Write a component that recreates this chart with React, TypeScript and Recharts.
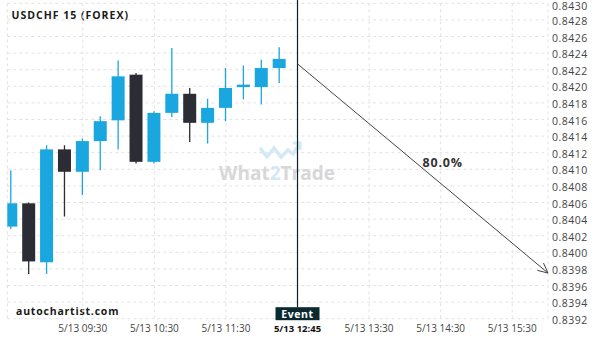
import React from "react";
import {
  ComposedChart,
  Bar,
  XAxis,
  YAxis,
  CartesianGrid,
  ReferenceLine,
} from "recharts";

// 15 min candles, 5/13
const candleTimes = [
  "08:30", "08:45", "09:00", "09:15", "09:30", "09:45", "10:00", "10:15",
  "10:30", "10:45", "11:00", "11:15", "11:30", "11:45", "12:00", "12:15",
];
const opens = [
  0.84031, 0.84059, 0.83988, 0.84124, 0.84097, 0.84134, 0.84159, 0.84214,
  0.84109, 0.84168, 0.84191, 0.84156, 0.84174, 0.84199, 0.84199, 0.84222,
];
const highs = [
  0.84099, 0.8406, 0.84129, 0.84129, 0.84137, 0.84164, 0.84231, 0.84216,
  0.8417, 0.84246, 0.84198, 0.84185, 0.84222, 0.84225, 0.84232, 0.84247,
];
const lows = [
  0.84028, 0.83974, 0.83974, 0.84043, 0.84069, 0.84099, 0.84124, 0.84107,
  0.84107, 0.84163, 0.84133, 0.84131, 0.84158, 0.84184, 0.84178, 0.84204,
];
const closes = [
  0.84059, 0.83989, 0.84124, 0.84097, 0.84134, 0.84158, 0.84212, 0.84109,
  0.84168, 0.84191, 0.84156, 0.84174, 0.84198, 0.84202, 0.84222, 0.84233,
];

const xTickValues = [4, 8, 12, 16, 20, 24, 28];
const xTickLabels = [
  "5/13 09:30", "5/13 10:30", "5/13 11:30", "5/13 12:45",
  "5/13 13:30", "5/13 14:30", "5/13 15:30",
];
const yTicks = [
  0.8392, 0.8394, 0.8396, 0.8398, 0.84, 0.8402, 0.8404, 0.8406, 0.8408, 0.841,
  0.8412, 0.8414, 0.8416, 0.8418, 0.842, 0.8422, 0.8424, 0.8426, 0.8428, 0.843,
];

const eventIndex = 16;
const forecastStart = { t: 16, price: 0.84227 };
const forecastEnd = { t: 30, price: 0.83975 };
const forecastLabel = "80.0%";

const BLUE = "#1aa7e0";
const DARK = "#2b2c34";
const FONT = "'Open Sans', 'Noto Sans', sans-serif";

const data = candleTimes.map((time, i) => ({
  t: i,
  time,
  open: opens[i],
  high: highs[i],
  low: lows[i],
  close: closes[i],
  range: [lows[i], highs[i]],
}));

const Candle = (props: any) => {
  const { x, y, width, height, payload } = props;
  const { open, close, high, low } = payload;
  const color = close >= open ? BLUE : DARK;
  const top0 = height < 0 ? y + height : y;
  const h = Math.abs(height);
  const span = high - low || 1e-9;
  const yAt = (p: number) => top0 + ((high - p) / span) * h;
  const bTop = yAt(Math.max(open, close));
  const bBot = yAt(Math.min(open, close));
  const cx = x + width / 2;
  return (
    <g>
      <line x1={cx} x2={cx} y1={top0} y2={top0 + h} stroke={color} strokeWidth={1.3} />
      <rect x={x} y={bTop} width={width} height={Math.max(bBot - bTop, 1.6)} fill={color} />
    </g>
  );
};

const XTick = (props: any) => {
  const { x, y, payload } = props;
  const idx = xTickValues.indexOf(payload.value);
  const isEvent = payload.value === eventIndex;
  return (
    <text
      x={x}
      y={y + 9.5}
      textAnchor="middle"
      dominantBaseline="central"
      fontFamily={FONT}
      fontSize={isEvent ? 9.5 : 10}
      fontWeight={isEvent ? 700 : 400}
      fill={isEvent ? "#111" : "#444"}
    >
      {idx >= 0 ? xTickLabels[idx] : ""}
    </text>
  );
};

const YTick = (props: any) => {
  const { x, y, payload } = props;
  return (
    <text
      x={x + 4}
      y={Math.max(y + 1, 5.5)}
      textAnchor="start"
      dominantBaseline="central"
      fontFamily={FONT}
      fontSize={10.5}
      letterSpacing={0.5}
      fill="#444"
    >
      {payload.value.toFixed(4)}
    </text>
  );
};

const EventMarker = (props: any) => {
  const { x1, y1, y2 } = props;
  const bottom = Math.max(y1, y2);
  const boxTop = bottom - 11.5;
  return (
    <g>
      <line x1={x1} x2={x1} y1={0} y2={boxTop} stroke="#0b2025" strokeWidth={1.2} />
      <rect x={x1 - 22} y={boxTop} width={44} height={13} fill="#0b2a30" />
      <text
        x={x1}
        y={boxTop + 7}
        textAnchor="middle"
        dominantBaseline="central"
        fontFamily={FONT}
        fontSize={10.5}
        fontWeight={700}
        letterSpacing={0.6}
        fill="#fff"
      >
        Event
      </text>
    </g>
  );
};

const ForecastArrow = (props: any) => {
  const { x1, y1, x2, y2 } = props;
  const ang = Math.atan2(y2 - y1, x2 - x1);
  const L = 11;
  const a = 0.45;
  const p1 = [x2 - L * Math.cos(ang - a), y2 - L * Math.sin(ang - a)];
  const p2 = [x2 - L * Math.cos(ang + a), y2 - L * Math.sin(ang + a)];
  const mx = (x1 + x2) / 2;
  const my = (y1 + y2) / 2;
  return (
    <g>
      <line x1={x1} y1={y1} x2={x2} y2={y2} stroke="#444" strokeWidth={1} />
      <polyline
        points={`${p1[0]},${p1[1]} ${x2},${y2} ${p2[0]},${p2[1]}`}
        fill="none"
        stroke="#444"
        strokeWidth={1}
      />
      <text
        x={mx + 20}
        y={my - 5.5}
        textAnchor="middle"
        dominantBaseline="central"
        fontFamily={FONT}
        fontSize={12.5}
        fontWeight={700}
        letterSpacing={0.8}
        fill="#333"
      >
        {forecastLabel}
      </text>
    </g>
  );
};

export default function App() {
  return (
    <div style={{ position: "absolute", left: 0, top: 0, width: 600, height: 340, background: "#fff" }}>
      <svg width={600} height={340} style={{ position: "absolute", left: 0, top: 0 }}>
        <text x={11.5} y={15} dominantBaseline="central" fontFamily={FONT} fontSize={10.5} fontWeight={700} letterSpacing={1} fill="#1a1a1a">
          USDCHF 15 (FOREX)
        </text>
        <text x={16} y={311} dominantBaseline="central" fontFamily={FONT} fontSize={10.5} fontWeight={700} letterSpacing={0.8} fill="#1a1a1a">
          autochartist.com
        </text>
        <g opacity={0.9}>
          <polyline points="260,148 267,157 274,148 281,157 288,150 293,154 300,143" fill="none" stroke="#cfe8f6" strokeWidth={3.5} />
          <polyline points="293,143 300,143 300,150" fill="none" stroke="#cfe8f6" strokeWidth={3} />
          <text x={277} y={173} textAnchor="middle" dominantBaseline="central" fontFamily={FONT} fontSize={19} fontWeight={700} fill="#d3d3d3">
            What<tspan fill="#cce7f6">2</tspan>Trade
          </text>
        </g>
      </svg>
      <div style={{ position: "absolute", left: 0, top: 0 }}>
        <ComposedChart width={600} height={340} data={data} margin={{ top: 3.3, right: 0, bottom: 0, left: 7.3 }}>
          <CartesianGrid stroke="#e2e2e2" strokeDasharray="3 3" />
          <XAxis
            dataKey="t"
            type="number"
            domain={[-0.22, 30]}
            ticks={xTickValues}
            interval={0}
            allowDataOverflow
            axisLine={false}
            tickLine={false}
            tickSize={0}
            tickMargin={0}
            height={21.3}
            tick={XTick}
          />
          <YAxis
            orientation="right"
            domain={[0.8392, 0.843]}
            ticks={yTicks}
            interval={0}
            width={52}
            axisLine={false}
            tickLine={false}
            tickSize={0}
            tickMargin={0}
            tick={YTick}
          />
          <Bar dataKey="range" barSize={13} shape={Candle} isAnimationActive={false} />
          <ReferenceLine x={eventIndex} shape={EventMarker} ifOverflow="visible" />
          <ReferenceLine
            segment={[
              { x: forecastStart.t, y: forecastStart.price },
              { x: forecastEnd.t, y: forecastEnd.price },
            ]}
            shape={ForecastArrow}
            ifOverflow="visible"
          />
        </ComposedChart>
      </div>
    </div>
  );
}
